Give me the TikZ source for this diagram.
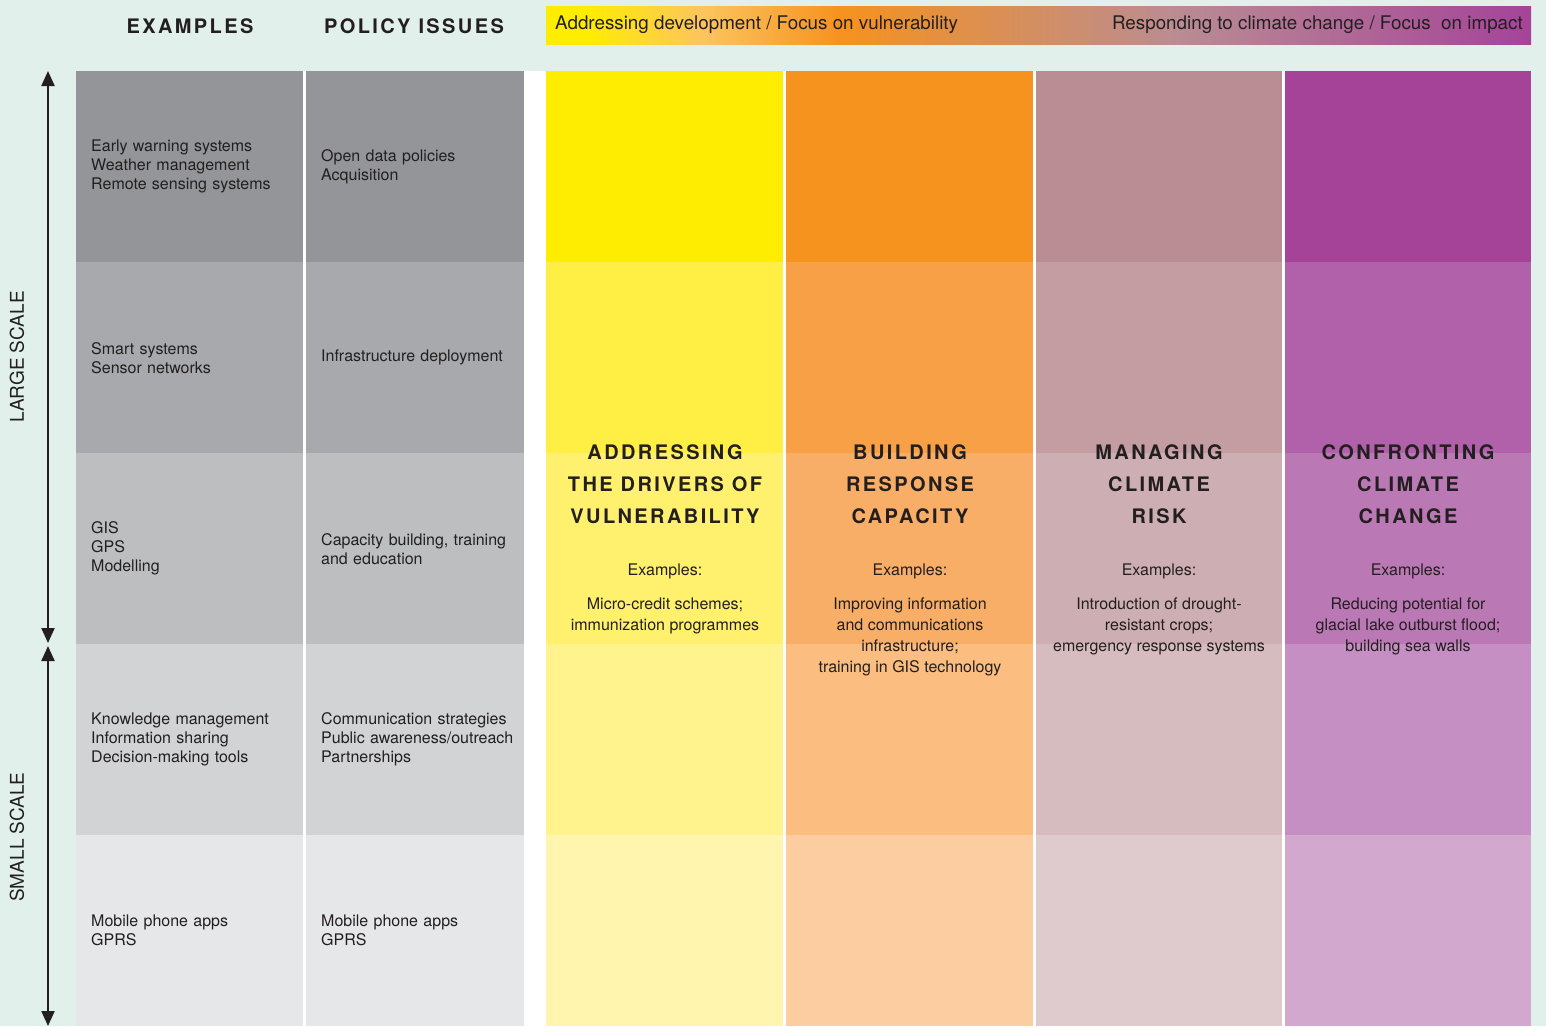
\documentclass[tikz,border=0pt]{standalone}
\usepackage{fontspec}
\setmainfont{TeX Gyre Heros}
\newfontfamily\headfont[LetterSpace=12]{TeX Gyre Heros}
\usepackage{tikz}
\usetikzlibrary{positioning, arrows.meta}
\definecolor{mint}{HTML}{E1F0EA}
\definecolor{ink}{HTML}{231F20}
\definecolor{gry1}{HTML}{939598}
\definecolor{gry2}{HTML}{A7A9AC}
\definecolor{gry3}{HTML}{BCBEC0}
\definecolor{gry4}{HTML}{D1D3D4}
\definecolor{gry5}{HTML}{E6E7E8}
\definecolor{yel1}{HTML}{FFED00}
\definecolor{yel2}{HTML}{FFEF45}
\definecolor{yel3}{HTML}{FFF16E}
\definecolor{yel4}{HTML}{FFF38E}
\definecolor{yel5}{HTML}{FFF5AF}
\definecolor{org1}{HTML}{F6921E}
\definecolor{org2}{HTML}{F7A046}
\definecolor{org3}{HTML}{F8AE66}
\definecolor{org4}{HTML}{FBBD80}
\definecolor{org5}{HTML}{FCCDA0}
\definecolor{mau1}{HTML}{BA8C93}
\definecolor{mau2}{HTML}{C49DA2}
\definecolor{mau3}{HTML}{CDAEB2}
\definecolor{mau4}{HTML}{D6BCBF}
\definecolor{mau5}{HTML}{DFCBCD}
\definecolor{pur1}{HTML}{A54399}
\definecolor{pur2}{HTML}{B061A9}
\definecolor{pur3}{HTML}{BA78B4}
\definecolor{pur4}{HTML}{C68FC3}
\definecolor{pur5}{HTML}{D3A8CF}
\definecolor{hdrmid}{HTML}{FCC45F}
\pgfdeclarehorizontalshading{hdrshade}{100bp}{color(0bp)=(yel1); color(27bp)=(yel1); color(33bp)=(hdrmid); color(40bp)=(org1); color(57bp)=(mau1); color(75bp)=(pur1); color(100bp)=(pur1)}
\newcommand{\txtsize}{\fontsize{16}{19}\selectfont}
\tikzset{%
	excell/.style = {anchor = north west, minimum height = 191pt, inner xsep = 15pt, inner ysep = 0pt, text width = 197pt, align = left, font = \txtsize, text = ink},
	polcell/.style = {excell, text width = 188pt},
	band/.style = {anchor = north west, minimum width = #1, minimum height = 191pt, inner sep = 0pt},
	colhead/.style = {font = \headfont\bfseries\fontsize{20}{24}\selectfont, text = ink},
	title/.style = {align = center, font = \headfont\bfseries\fontsize{20}{32}\selectfont, text = ink},
	exlist/.style = {anchor = north, align = center, inner sep = 0pt, font = \fontsize{16}{21}\selectfont, text = ink},
	barlabel/.style = {font = \fontsize{18.8}{22}\selectfont, text = ink, inner sep = 0pt},
	side/.style = {rotate = 90, font = \fontsize{19}{22}\selectfont, text = ink},
	scalearrow/.style = {line width = 2.2pt, draw = ink, {Triangle[length = 15pt, width = 13pt]}-{Triangle[length = 15pt, width = 13pt]}}
}
\begin{document}
\begin{tikzpicture}[x = 1pt, y = -1pt]
	\useasboundingbox (0,0) rectangle (1546,1026);
	\fill [mint] (0,0) rectangle (1546,1026);
	\fill [white] (76,71) rectangle (1531,1026);

	% column heads
	\node [colhead] (exhead) at (190,26) {EXAMPLES};
	\node [colhead] (polhead) at (414,26) {POLICY ISSUES};
	\shade [shading = hdrshade] (546,6) rectangle (1531,44);
	\node [barlabel, anchor = west] (devlabel) at (555,25) {Addressing development / Focus on vulnerability};
	\node [barlabel, anchor = east] (implabel) at (1523,25) {Responding to climate change / Focus\ \ on impact};

	% examples and policy issues
	\node [excell, fill = gry1] (ex1) at (76,71) {Early warning systems\\Weather management\\Remote sensing systems};
	\node [excell, fill = gry2] (ex2) at (76,262) {Smart systems\\Sensor networks};
	\node [excell, fill = gry3] (ex3) at (76,453) {GIS\\GPS\\Modelling};
	\node [excell, fill = gry4] (ex4) at (76,644) {Knowledge management\\Information sharing\\Decision-making tools};
	\node [excell, fill = gry5] (ex5) at (76,835) {Mobile phone apps\\GPRS};
	\node [polcell, fill = gry1] (pol1) at (306,71) {Open data policies\\Acquisition};
	\node [polcell, fill = gry2] (pol2) at (306,262) {Infrastructure deployment};
	\node [polcell, fill = gry3] (pol3) at (306,453) {Capacity building, training\\and education};
	\node [polcell, fill = gry4] (pol4) at (306,644) {Communication strategies\\\mbox{Public awareness/outreach}\\Partnerships};
	\node [polcell, fill = gry5] (pol5) at (306,835) {Mobile phone apps\\GPRS};

	% coloured bands
	\foreach \r/\y in {1/71, 2/262, 3/453, 4/644, 5/835} {
		\node [band = 237pt, fill = yel\r] (drv\r) at (546,\y) {};
		\node [band = 247pt, fill = org\r] (rsp\r) at (786,\y) {};
		\node [band = 246pt, fill = mau\r] (rsk\r) at (1036,\y) {};
		\node [band = 246pt, fill = pur\r] (chg\r) at (1285,\y) {};
	}

	\node [title] (drvtitle) at (665,484) {ADDRESSING\\THE DRIVERS OF\\VULNERABILITY};
	\node [title] (rsptitle) at (910,484) {BUILDING\\RESPONSE\\CAPACITY};
	\node [title] (rsktitle) at (1159,484) {MANAGING\\CLIMATE\\RISK};
	\node [title] (chgtitle) at (1408,484) {CONFRONTING\\CLIMATE\\CHANGE};
	\node [exlist] (drvex) at (665,564) {Examples:\\[13pt]Micro-credit schemes;\\immunization programmes};
	\node [exlist] (rspex) at (910,564) {Examples:\\[13pt]Improving information\\and communications\\infrastructure;\\training in GIS technology};
	\node [exlist] (rskex) at (1159,564) {Examples:\\[13pt]Introduction of drought-\\resistant crops;\\emergency response systems};
	\node [exlist] (chgex) at (1408,564) {Examples:\\[13pt]Reducing potential for\\glacial lake outburst flood;\\building sea walls};

	% scale arrows
	\coordinate (largetop) at (48,71);
	\coordinate (largebot) at (48,643);
	\coordinate (smalltop) at (48,646);
	\coordinate (smallbot) at (48,1026);
	\draw [scalearrow] (largetop) -- (largebot);
	\draw [scalearrow] (smalltop) -- (smallbot);
	\node [side] (large) at (17,357) {LARGE SCALE};
	\node [side] (small) at (17,837) {SMALL SCALE};
\end{tikzpicture}
\end{document}
